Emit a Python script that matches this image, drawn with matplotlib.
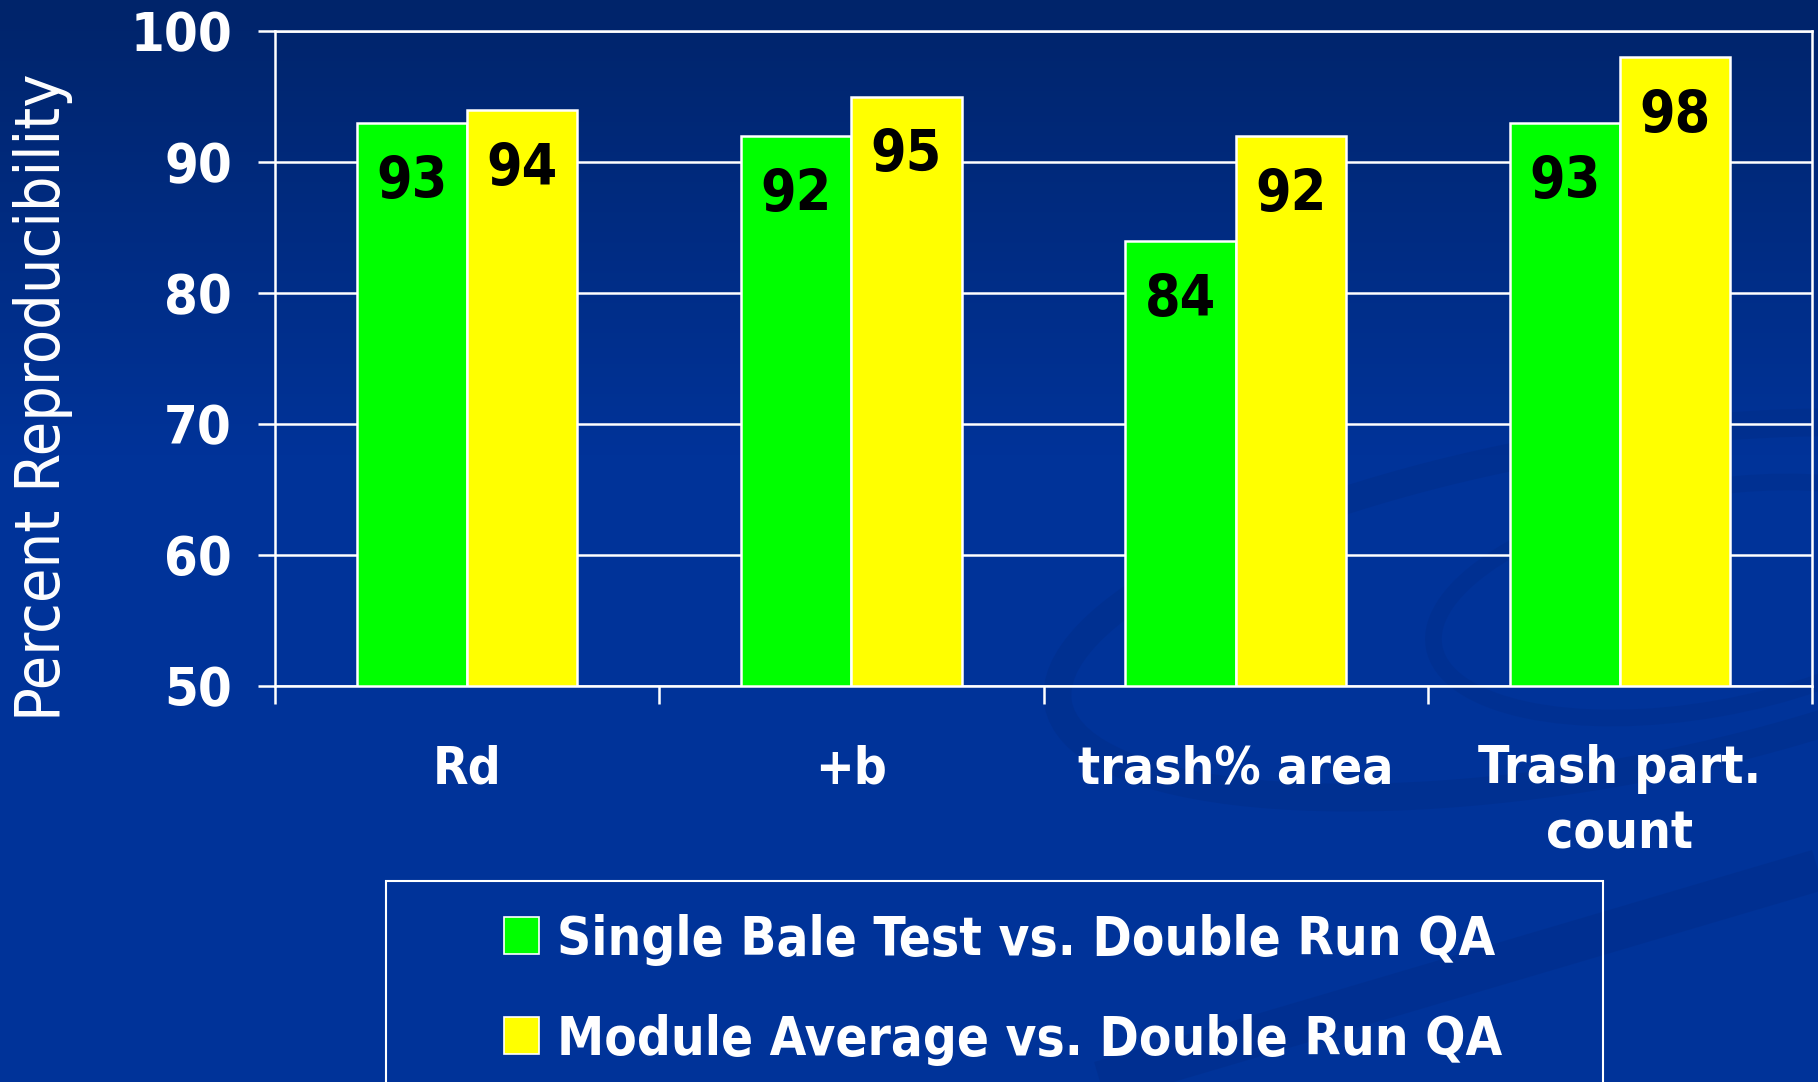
import numpy as np
import matplotlib.pyplot as plt
from matplotlib.patches import Rectangle, Ellipse

categories = ['Rd', '+b', 'trash% area', 'Trash part.\ncount']
single_bale = [93, 92, 84, 93]    # Single Bale Test vs. Double Run QA
module_avg = [94, 95, 92, 98]     # Module Average vs. Double Run QA
series_names = ['Single Bale Test vs. Double Run QA', 'Module Average vs. Double Run QA']
series_colors = ['#00ff00', '#ffff00']
yticks = [50, 60, 70, 80, 90, 100]

plt.rcParams['font.family'] = ['DejaVu Sans']
plt.rcParams['font.stretch'] = 'condensed'

W, H = 1818, 1082
fig = plt.figure(figsize=(W / 100, H / 100), dpi=100)

# background: dark gradient at the top into plain blue, faint swirls
bg = fig.add_axes([0, 0, 1, 1], zorder=-10)
top = np.array([0, 36, 106]) / 255
mid = np.array([0, 51, 153]) / 255
t = np.clip(np.linspace(0, 1, H) / 0.42, 0, 1)[:, None]
grad = top * (1 - t) + mid * t
bg.imshow(grad[:, None, :], extent=[0, W, H, 0], aspect='auto')
bg.add_patch(Ellipse((1590, 610), 1080, 330, angle=-10, fill=False,
                     edgecolor='#022c86', lw=20, alpha=0.4))
bg.add_patch(Ellipse((1700, 600), 540, 220, angle=-10, fill=False,
                     edgecolor='#022c86', lw=12, alpha=0.35))
bg.plot([1100, 1818], [1082, 870], color='#022c88', lw=30, alpha=0.45,
        solid_capstyle='butt')
bg.set_xlim(0, W)
bg.set_ylim(H, 0)
bg.axis('off')

ax = fig.add_axes([275 / W, (H - 686) / H, 1537 / W, 655 / H])
ax.set_facecolor('none')

x = np.arange(len(categories))
w = 0.287
groups = [single_bale, module_avg]
for i, (vals, col) in enumerate(zip(groups, series_colors)):
    xs = x + (i - 0.5) * w
    ax.bar(xs, np.array(vals) - 50, w, bottom=50, color=col,
           edgecolor='white', linewidth=1.8, zorder=3)
    for xi, v in zip(xs, vals):
        ax.annotate(str(v), (xi, v), xytext=(0, -54), textcoords='offset points',
                    ha='center', va='baseline', fontsize=41, fontweight='bold',
                    color='black', zorder=4)

ax.set_xlim(-0.5, len(categories) - 0.5)
ax.set_ylim(50, 100)
ax.set_yticks(yticks)
ax.yaxis.grid(True, color='white', lw=1.8)
ax.set_axisbelow(True)
for s in ax.spines.values():
    s.set_color('white')
    s.set_linewidth(1.8)

ax.tick_params(axis='y', colors='white', length=12, width=1.8, pad=19,
               labelsize=39)
for lab in ax.get_yticklabels():
    lab.set_fontweight('bold')

ax.set_xticks(x)
ax.set_xticklabels(categories, fontsize=37, fontweight='bold', color='white',
                   linespacing=1.4)
ax.set_xticks(np.arange(len(categories) + 1) - 0.5, minor=True)
ax.tick_params(axis='x', which='major', length=0, pad=42)
ax.tick_params(axis='x', which='minor', length=13, width=1.8, color='white')

fig.text(43 / W, 1 - 397 / H, 'Percent Reproducibility', rotation=90,
         ha='center', va='center', fontsize=45, color='white')

# legend box
fig.patches.append(Rectangle((386 / W, -0.05), (1603 - 386) / W, 1 - 881 / H + 0.05,
                             transform=fig.transFigure, fill=False,
                             edgecolor='white', lw=1.5))
for k, (name, col) in enumerate(zip(series_names, series_colors)):
    yc = 935 + k * 100
    fig.patches.append(Rectangle((504 / W, 1 - (yc + 19) / H), 35 / W, 37 / H,
                                 transform=fig.transFigure, facecolor=col,
                                 edgecolor='white', lw=1.2))
    fig.text(557 / W, 1 - yc / H, name, ha='left', va='center_baseline',
             fontsize=38, fontweight='bold', color='white')

fig.savefig('out.png', dpi=100)
